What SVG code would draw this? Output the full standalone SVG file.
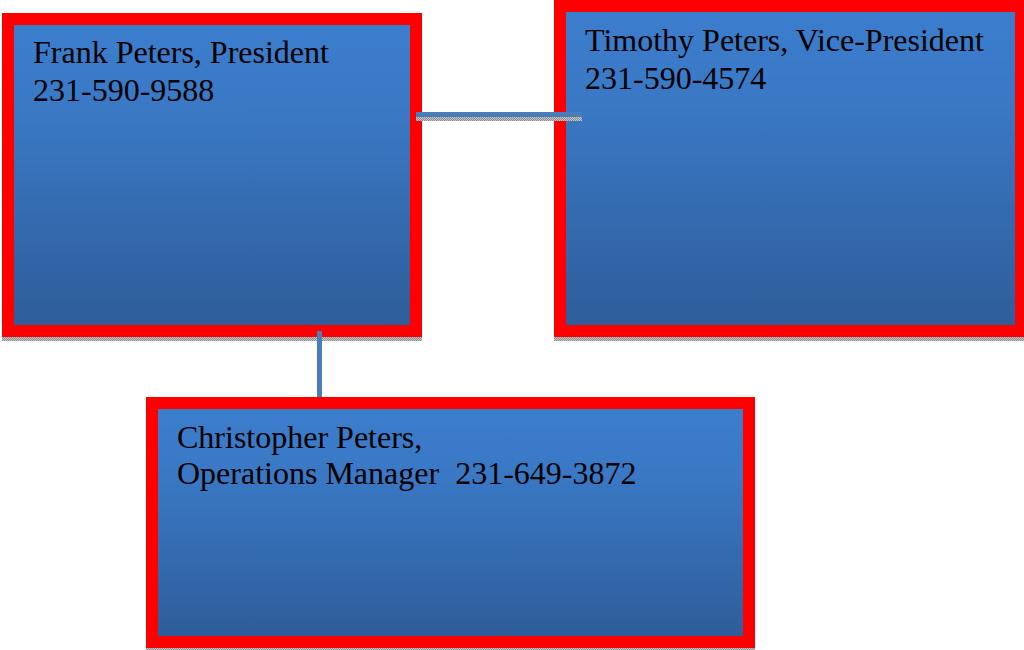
<svg xmlns="http://www.w3.org/2000/svg" width="1024" height="650" viewBox="0 0 1024 650">
  <defs>
    <linearGradient id="fill" x1="0" y1="0" x2="0" y2="1">
      <stop offset="0" stop-color="#3b7dcd"/>
      <stop offset="0.3" stop-color="#3a78c4"/>
      <stop offset="1" stop-color="#2e5d9a"/>
    </linearGradient>
    <pattern id="checker" width="2" height="2" patternUnits="userSpaceOnUse">
      <rect width="2" height="2" fill="#c8c8c8"/>
      <rect width="1" height="1" fill="#8a8a8a"/>
      <rect x="1" y="1" width="1" height="1" fill="#8a8a8a"/>
    </pattern>
  </defs>
  <style>
    .frame { fill: #ff0000; }
    .inner { fill: url(#fill); }
    .shadow { fill: url(#checker); }
    .label { font-family: "Liberation Serif", "Times New Roman", serif; font-size: 32px; fill: #000; white-space: pre; }
    .conn { fill: #4a7ebb; }
  </style>
  <rect width="1024" height="650" fill="#ffffff"/>

  <g id="node-frank">
    <rect class="shadow" x="2" y="337" width="420" height="4"/>
    <rect class="frame" x="2" y="13" width="420" height="324"/>
    <rect class="inner" x="14" y="25" width="396" height="300"/>
    <text class="label" x="33" y="63">Frank Peters, President</text>
    <text class="label" x="33" y="101">231-590-9588</text>
  </g>

  <g id="node-timothy">
    <rect class="shadow" x="554" y="337" width="470" height="4"/>
    <rect class="frame" x="554" y="0" width="470" height="337"/>
    <rect class="inner" x="566" y="12" width="449" height="313"/>
    <text class="label" x="585" y="51">Timothy Peters, Vice-President</text>
    <text class="label" x="585" y="89">231-590-4574</text>
  </g>

  <g id="node-christopher">
    <rect class="shadow" x="146" y="648" width="609" height="2"/>
    <rect class="frame" x="146" y="397" width="609" height="251"/>
    <rect class="inner" x="158" y="409" width="585" height="227"/>
    <text class="label" x="177" y="448">Christopher Peters,</text>
    <text class="label" x="177" y="484" xml:space="preserve">Operations Manager  231-649-3872</text>
  </g>

  <g id="connectors">
    <rect class="shadow" x="416" y="117" width="166" height="4"/>
    <rect class="conn" x="416" y="112" width="166" height="5"/>
    <rect class="conn" x="317" y="331" width="5" height="66"/>
  </g>
</svg>
